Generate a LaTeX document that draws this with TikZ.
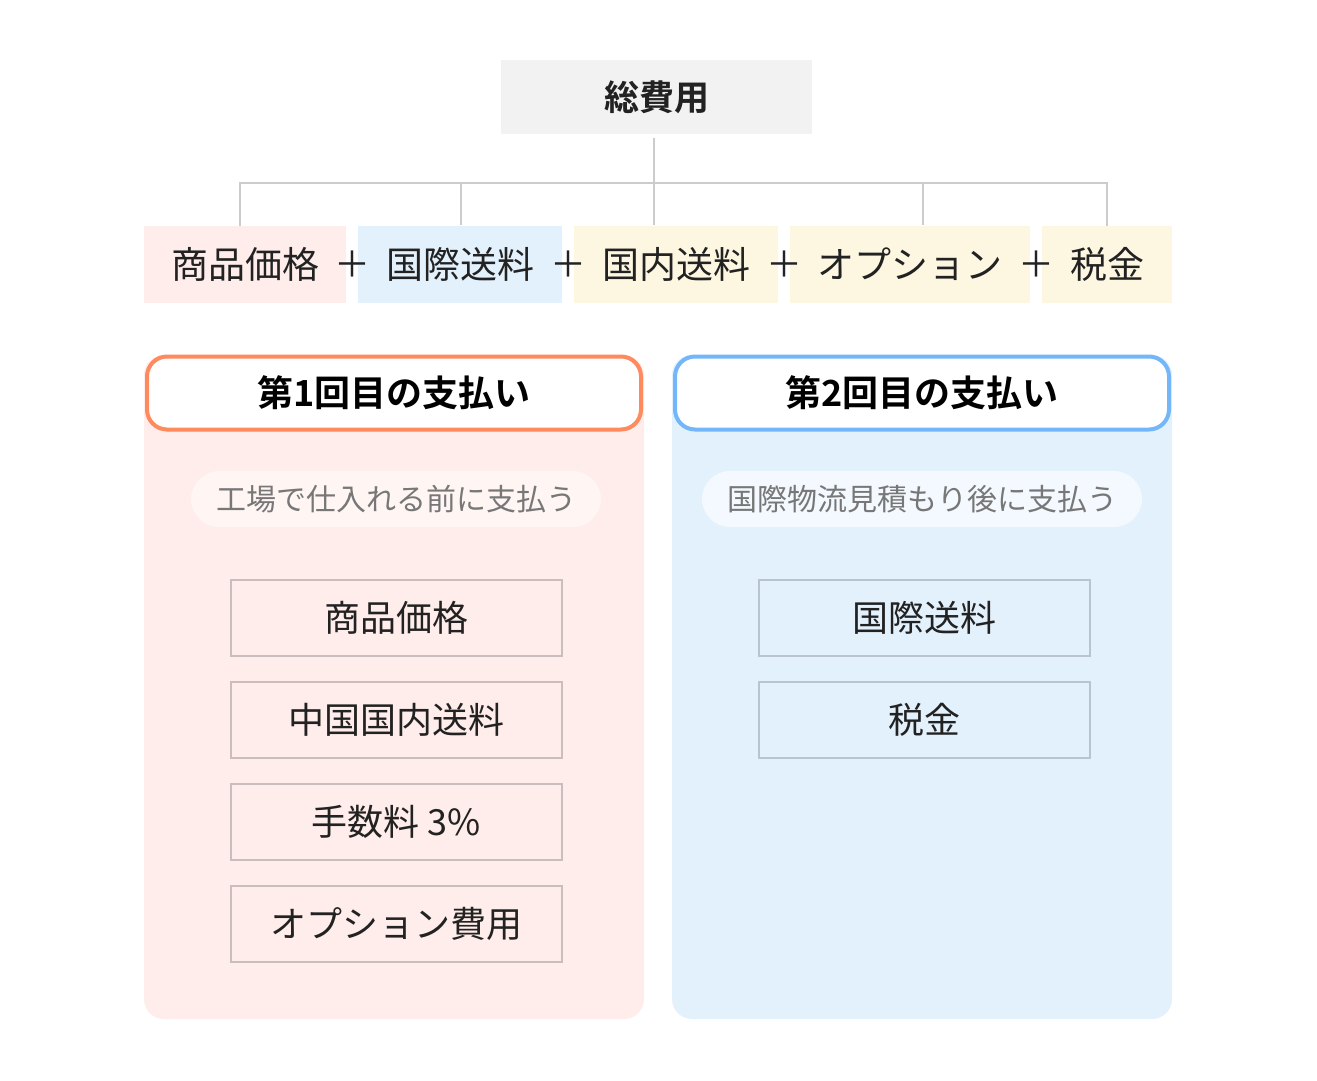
\documentclass[tikz,border=0pt]{standalone}
\usepackage{fontspec}
\setmainfont{Noto Sans CJK JP}[BoldFont={Noto Sans CJK JP Bold}]
\definecolor{linegray}{HTML}{CCCCCC}
\definecolor{topfill}{HTML}{F2F2F2}
\definecolor{pinkfill}{HTML}{FEEDEA}
\definecolor{bluefill}{HTML}{E3F1FD}
\definecolor{yellowfill}{HTML}{FDF7E2}
\definecolor{orangeline}{HTML}{FF8A5E}
\definecolor{blueline}{HTML}{74B6FA}
\definecolor{pinkpill}{HTML}{FFF5F3}
\definecolor{bluepill}{HTML}{F3F9FE}
\definecolor{subgray}{HTML}{777777}
\definecolor{itemline}{HTML}{C9BDBD}
\definecolor{itemlineb}{HTML}{B9C4CF}
\definecolor{txt}{HTML}{222222}
\tikzset{
  box/.style={inner sep=0pt, outer sep=0pt, text=txt},
  rowbox/.style={box, minimum height=77pt, font=\fontsize{37}{42}\selectfont},
  plus/.style={inner sep=0pt, text=txt, font=\fontsize{36}{40}\selectfont},
  conn/.style={draw=linegray, line width=1.5pt},
  header/.style={box, rounded corners=20pt, line width=4pt, fill=white, minimum width=494pt, minimum height=73pt, font=\fontsize{36}{40}\selectfont\bfseries, text=black},
  pill/.style={box, rounded corners=28pt, minimum height=56pt, text=subgray, font=\fontsize{30}{34}\selectfont},
  item/.style={box, line width=1.5pt, minimum width=331pt, minimum height=76pt, font=\fontsize{36}{40}\selectfont},
  panel/.style={rounded corners=20pt}
}
\begin{document}
\begin{tikzpicture}[x=1pt,y=-1pt]
\useasboundingbox[fill=white] (0,0) rectangle (1317,1080);
% top
\node[box, fill=topfill, minimum width=311pt, minimum height=74pt, font=\fontsize{35}{40}\selectfont\bfseries] (total) at (656.5,97) {総費用};
% row boxes
\node[rowbox, fill=pinkfill, minimum width=202pt] (r1) at (245,264) {商品価格};
\node[rowbox, fill=bluefill, minimum width=204pt] (r2) at (460,264) {国際送料};
\node[rowbox, fill=yellowfill, minimum width=204pt] (r3) at (676,264) {国内送料};
\node[rowbox, fill=yellowfill, minimum width=240pt] (r4) at (910,264) {オプション};
\node[rowbox, fill=yellowfill, minimum width=130pt] (r5) at (1107,264) {税金};
\node[plus] (p1) at (352,264) {＋};
\node[plus] (p2) at (568,264) {＋};
\node[plus] (p3) at (784,264) {＋};
\node[plus] (p4) at (1036,264) {＋};
% connectors
\coordinate (jc) at (654,183);
\coordinate (jl) at (240,183);
\coordinate (jr) at (1107,183);
\draw[conn] (654,138) -- (jc);
\draw[conn] (jl|-r1.north) -- (jl) -- (jr) -- (jr|-r5.north);
\draw[conn] (461,183) -- (461,225);
\draw[conn] (jc) -- (654,225);
\draw[conn] (923,183) -- (923,225);
% panels
\fill[pinkfill, panel] (144,355) rectangle (644,1019);
\fill[bluefill, panel] (672,355) rectangle (1172,1019);
\node[header, draw=orangeline] (h1) at (394,393) {第1回目の支払い};
\node[header, draw=blueline] (h2) at (922,393) {第2回目の支払い};
\node[pill, fill=pinkpill, minimum width=410pt] (s1) at (396,499) {工場で仕入れる前に支払う};
\node[pill, fill=bluepill, minimum width=440pt] (s2) at (922,499) {国際物流見積もり後に支払う};
% items
\node[item, draw=itemline, fill=pinkfill] (a1) at (396.5,618) {商品価格};
\node[item, draw=itemline, fill=pinkfill] (a2) at (396.5,720) {中国国内送料};
\node[item, draw=itemline, fill=pinkfill] (a3) at (396.5,822) {手数料 3\%};
\node[item, draw=itemline, fill=pinkfill] (a4) at (396.5,924) {オプション費用};
\node[item, draw=itemlineb, fill=bluefill] (b1) at (924.5,618) {国際送料};
\node[item, draw=itemlineb, fill=bluefill] (b2) at (924.5,720) {税金};
\end{tikzpicture}
\end{document}
